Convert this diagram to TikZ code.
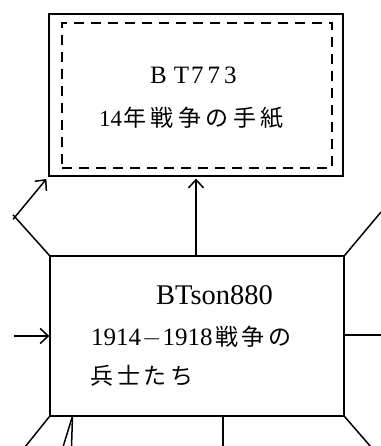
\documentclass[tikz,border=0pt]{standalone}
\usepackage{fontspec}
\usetikzlibrary{arrows.meta}
\setmainfont{Liberation Serif}
\newfontfamily\jp{Noto Sans CJK JP}
\newcommand\jc[1]{\makebox[27.5pt][c]{\jp #1}}
\newcommand\jd[1]{\makebox[26.5pt][c]{\jp #1}}
\tikzset{
  box/.style={draw, line width=1.4pt, minimum width=294pt, inner sep=0pt},
  dashbox/.style={draw, line width=1.9pt, dash pattern=on 10pt off 7pt, minimum width=270pt, minimum height=145pt, inner sep=0pt},
  conn/.style={line width=1.5pt},
  arr/.style={conn, -{Straight Barb[length=8pt, width=15pt, line width=1.5pt]}},
  txt/.style={anchor=base west, inner sep=0pt}
}
\begin{document}
\begin{tikzpicture}[x=1pt, y=-1pt]
\useasboundingbox (0,0) rectangle (380,446);
\fill[white] (0,0) rectangle (380,446);
% boxes
\node[box, minimum height=162pt] (b1) at (196,95) {};
\node[dashbox] (d1) at (197,95.5) {};
\node[box, minimum height=160pt] (b2) at (197,336) {};
% texts box 1
\node[txt] (t1) at (150,84) {\fontsize{25}{25}\selectfont B\kern7pt T\kern2pt 7\kern4pt 7\kern4pt 3};
\node[txt] (t2) at (99,127) {\fontsize{23}{23}\selectfont 14\fontsize{23}{23}\selectfont\kern-1pt\jc{年}\jc{戦}\jc{争}\jc{の}\jc{手}\jc{紙}};
% texts box 2
\node[txt] (t3) at (156,304) {\fontsize{28.5}{28.5}\selectfont BTson880};
\node[txt] (t4) at (91,345) {\fontsize{25}{25}\selectfont 1914\kern1pt$-$\kern1pt 1918\kern1pt\fontsize{23}{23}\selectfont\jd{戦}\jd{争}\jd{の}};
\node[txt] (t5) at (89,384) {\fontsize{23}{23}\selectfont\jd{兵}\jd{士}\jd{た}\jd{ち}};
% free ends
\coordinate (j1) at (15,217);
\coordinate (rt) at (381,212);
\coordinate (rm) at (381,335);
\coordinate (lm) at (14,336);
\coordinate (bl1) at (25,447);
\coordinate (bl2t) at (72.5,416);
\coordinate (bl2) at (63,447);
\coordinate (bl3) at (71.5,447);
\coordinate (bm) at (223,416);
\coordinate (bm2) at (223,447);
\coordinate (br) at (371,447);
% connectors
\draw[arr, shorten >=2pt] (b2.north -| 196,0) -- (b1.south -| 196,0);
\draw[conn, shorten >=-3pt] (b2.north west) -- (j1);
\draw[arr, shorten <=-3pt, shorten >=3pt] (j1) -- (b1.south west);
\draw[conn] (b2.north east) -- (rt);
\draw[conn] (b2.east |- rm) -- (rm);
\draw[arr] (lm) -- (b2.west |- lm);
\draw[conn] (b2.south west) -- (bl1);
\draw[conn] (bl2t) -- (bl2);
\draw[conn] (bl2t) -- (bl3);
\draw[conn] (bm) -- (bm2);
\draw[conn] (b2.south east) -- (br);
\end{tikzpicture}
\end{document}
